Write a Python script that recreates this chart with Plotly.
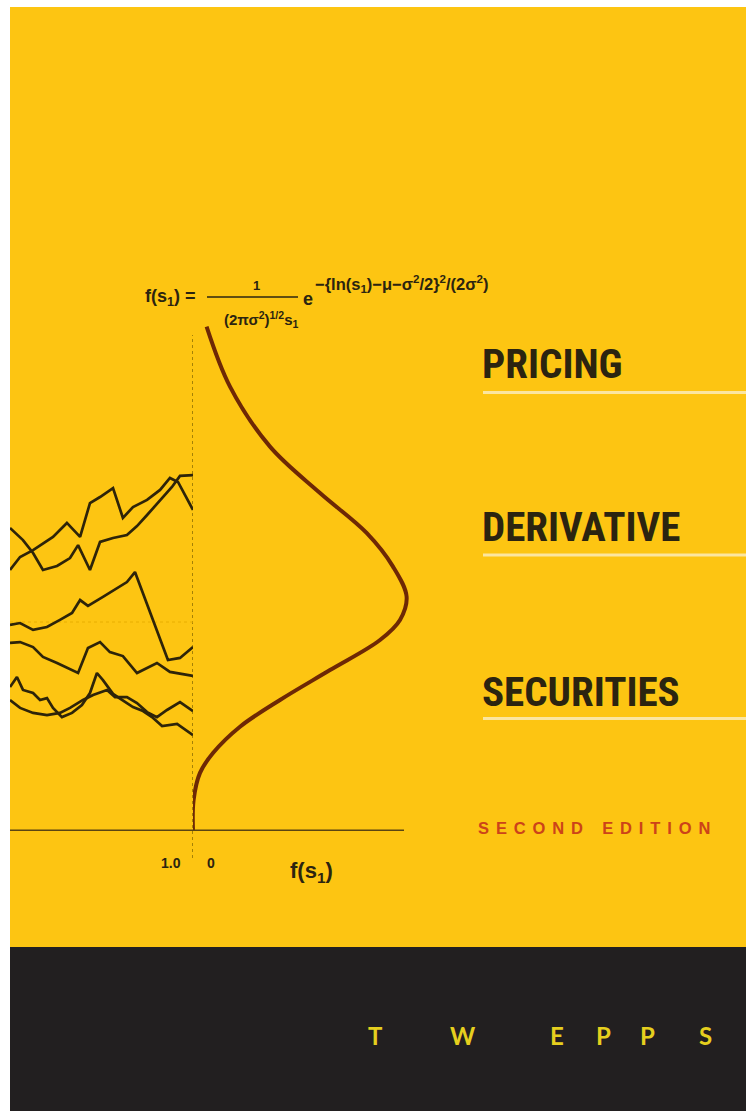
import plotly.graph_objects as go

# ---------------- data ----------------
# simulated price paths: time t (t = 1.0 at the dotted vertical line) and price s
path_a_t = [0, .055, .126, .235, .311, .383, .437, .492, .563, .617, .672, .749, .820, .874, .918, 1.0]
path_a_s = [1.249, 1.311, 1.344, 1.407, 1.474, 1.407, 1.569, 1.598, 1.641, 1.498, 1.550, 1.584, 1.632, 1.689, 1.670, 1.536]

path_b_t = [0, .071, .126, .180, .257, .328, .372, .437, .492, .563, .639, .694, .749, .820, .885, .929, 1.0]
path_b_s = [1.450, 1.392, 1.330, 1.249, 1.268, 1.306, 1.368, 1.249, 1.383, 1.402, 1.416, 1.459, 1.512, 1.584, 1.646, 1.699, 1.703]

path_c_t = [0, .055, .126, .202, .273, .339, .383, .426, .508, .585, .639, .683, .863, .929, 1.0]
path_c_s = [.986, .995, .962, .976, 1.010, 1.043, 1.105, 1.077, 1.120, 1.163, 1.191, 1.239, .818, .828, .880]

path_d_t = [0, .055, .126, .180, .257, .311, .372, .426, .492, .546, .617, .694, .749, .803, .874, 1.0]
path_d_s = [.900, .904, .880, .833, .804, .780, .756, .876, .904, .856, .837, .756, .780, .804, .761, .742]

path_e_t = [0, .038, .071, .126, .164, .202, .235, .284, .339, .393, .437, .475, .508, .563, .612, .672, .727, .776, .831, .913, 1.0]
path_e_s = [.689, .737, .675, .660, .627, .636, .589, .545, .565, .603, .660, .756, .722, .656, .627, .593, .574, .545, .502, .512, .459]

path_f_t = [0, .055, .126, .202, .273, .328, .399, .454, .530, .574, .639, .694, .749, .803, .858, .929, 1.0]
path_f_s = [.627, .589, .565, .555, .565, .589, .627, .651, .675, .641, .641, .612, .569, .545, .579, .617, .574]

paths = [(path_a_t, path_a_s), (path_b_t, path_b_s), (path_c_t, path_c_s),
         (path_d_t, path_d_s), (path_e_t, path_e_s), (path_f_t, path_f_s)]

# lognormal density of s1 (drawn sideways): price s and density f(s)
dens_s = [0, 0.148, 0.278, 0.373, 0.499, 0.627, 0.770, 0.914, 1.010, 1.121, 1.265, 1.426, 1.617, 1.839, 2.126, 2.413]
dens_f = [0, 0.003, 0.035, 0.100, 0.235, 0.435, 0.685, 0.935, 1.035, 1.068, 1.000, 0.868, 0.635, 0.385, 0.185, 0.068]

title_lines = ["PRICING", "DERIVATIVE", "SECURITIES"]
edition_words = ["SECOND", "EDITION"]
author_letters = ["T", "W", "E", "P", "P", "S"]

# ---------------- layout helpers ----------------
W, H = 746, 1111
def PX(x):
    return x / W
def PY(y):
    return 1 - y / H

YELLOW = "#fdc512"
DARK = "#221f20"
INK = "#2b2410"
PATH_COL = "#2e2409"
DENS_COL = "#6e2805"

fig = go.Figure()

for t, s in paths:
    fig.add_trace(go.Scatter(x=t, y=s, mode="lines", xaxis="x", yaxis="y",
                             line=dict(color=PATH_COL, width=2.7), hoverinfo="skip",
                             showlegend=False))

fig.add_trace(go.Scatter(x=dens_f, y=dens_s, mode="lines", xaxis="x2", yaxis="y",
                         line=dict(color=DENS_COL, width=4, shape="spline", smoothing=1.0),
                         hoverinfo="skip", showlegend=False))

shapes = []
# background panels
shapes.append(dict(type="rect", xref="paper", yref="paper", x0=PX(10), x1=1, y0=PY(947), y1=PY(7),
                   fillcolor=YELLOW, line=dict(width=0), layer="below"))
shapes.append(dict(type="rect", xref="paper", yref="paper", x0=PX(10), x1=1, y0=0, y1=PY(947),
                   fillcolor=DARK, line=dict(width=0), layer="below"))
# horizontal dotted reference line at s = 1
shapes.append(dict(type="line", xref="x", yref="y", x0=0, x1=1, y0=1.0, y1=1.0,
                   line=dict(color="#e8ae00", width=1, dash="dot"), layer="below"))
# vertical dotted line at t = 1 / f = 0
shapes.append(dict(type="line", xref="x", yref="paper", x0=1, x1=1, y0=PY(858), y1=PY(335),
                   line=dict(color="#9c7a06", width=1.8, dash="dot"), layer="below"))
# baseline
shapes.append(dict(type="line", xref="paper", yref="y", x0=PX(10), x1=PX(404), y0=0, y1=0,
                   line=dict(color="#5a4512", width=3)))
# underlines of the title
for yy in [392.5, 555, 718.5]:
    shapes.append(dict(type="line", xref="paper", yref="paper", x0=PX(483), x1=1, y0=PY(yy), y1=PY(yy),
                       line=dict(color="#fbe6a0", width=3)))
# fraction bar of the formula
shapes.append(dict(type="line", xref="paper", yref="paper", x0=PX(207), x1=PX(298), y0=PY(297), y1=PY(297),
                   line=dict(color=INK, width=1.6)))

ann = []
def A(text, x, y, size, color=INK, family="Liberation Sans, Arial, sans-serif", xanchor="left", **kw):
    ann.append(dict(text=text, x=PX(x), y=PY(y), xref="paper", yref="paper", showarrow=False,
                    xanchor=xanchor, yanchor="middle",
                    font=dict(size=size, color=color, family=family, weight="bold"), **kw))

# formula
A("f(s<sub>1</sub>) =", 143, 297, 18)
A("1", 256, 285, 13, xanchor="center")
A("(2πσ<sup>2</sup>)<sup>1/2</sup>s<sub>1</sub>", 261, 320, 15, xanchor="center")
A("e", 301, 299, 18)
A("−{ln(s<sub>1</sub>)−μ−σ<sup>2</sup>/2}<sup>2</sup>/(2σ<sup>2</sup>)", 313, 284, 16.5)

# axis labels
A("1.0", 183, 863, 14, xanchor="right")
A("0", 205, 863, 14)
A("f(s<sub>1</sub>)", 311, 872, 22, xanchor="center")

# title
cond = "Roboto Condensed, Noto Sans Condensed, DejaVu Sans Condensed, Liberation Sans, sans-serif"
for txt, yy in zip(title_lines, [364, 527, 692]):
    A(txt, 480, yy, 41, family=cond)

gap = "\u2005\u2006"
ed_text = ("\u2003\u2006").join(gap.join(list(w)) for w in edition_words)
A(ed_text, 476, 828, 16.5, color="#cc4319")

# author
for letter, xx in zip(author_letters, [375, 463, 557, 603, 647, 705]):
    A(letter, xx, 1035, 24, color="#e6cf1e", family="Lato, Open Sans, sans-serif", xanchor="center")

fig.update_layout(
    width=W, height=H, autosize=False,
    margin=dict(l=0, r=0, t=0, b=0),
    paper_bgcolor="white", plot_bgcolor="rgba(0,0,0,0)",
    showlegend=False,
    xaxis=dict(domain=[PX(10), PX(193)], range=[0, 1], visible=False, fixedrange=True),
    xaxis2=dict(domain=[PX(193), PX(420)], range=[0, 1.135], visible=False, anchor="y", fixedrange=True),
    yaxis=dict(domain=[PY(831), PY(308.5)], range=[0, 2.5], visible=False, fixedrange=True),
    shapes=shapes, annotations=ann,
)

fig.write_html("out.html", config={"displayModeBar": False},
               post_script="document.body.style.margin='0';document.body.style.overflow='hidden';")
